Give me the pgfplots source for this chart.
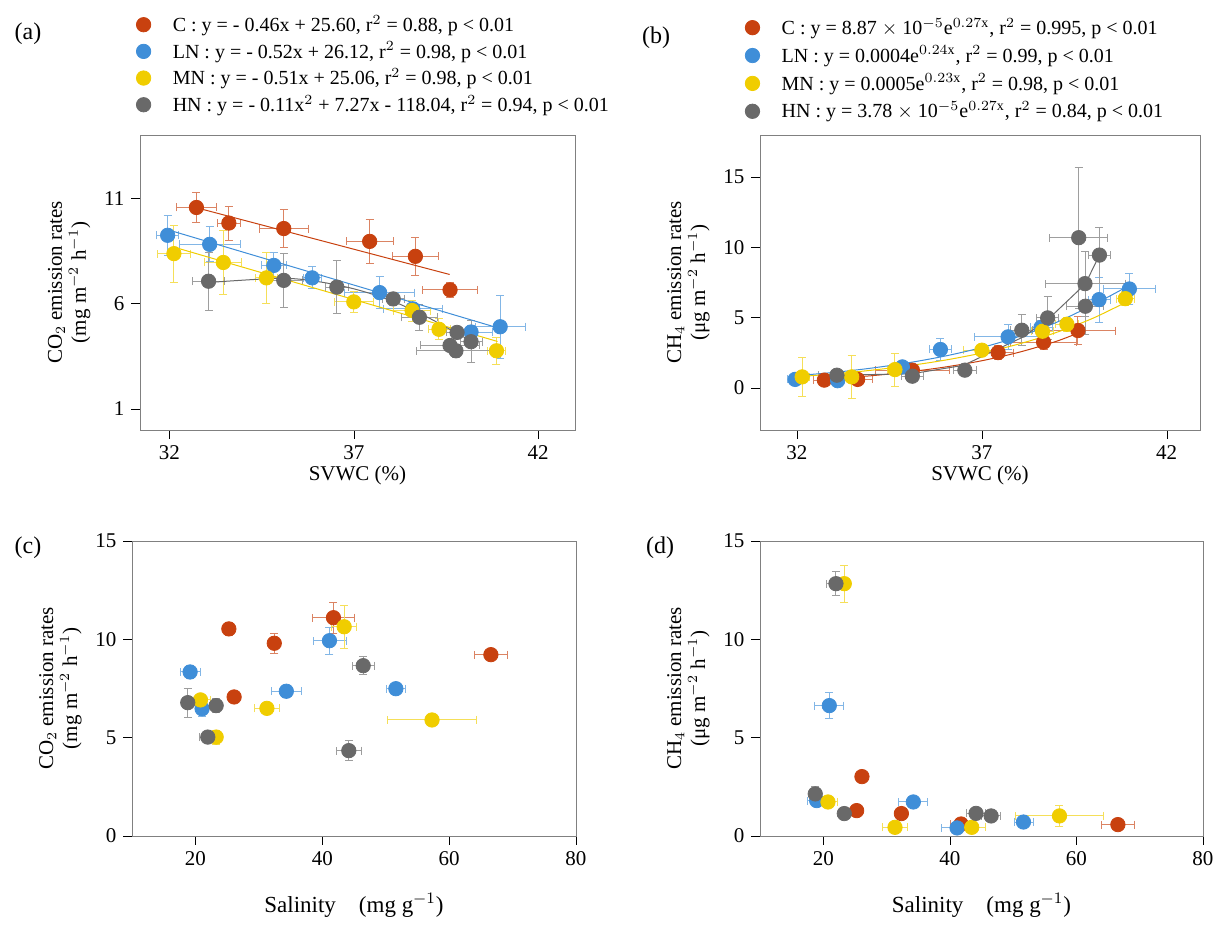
\documentclass[border=0pt]{standalone}
\usepackage{pgfplots}
\pgfplotsset{compat=1.18}
\usepackage{fontspec}
\setmainfont{Liberation Serif}
\definecolor{cR}{RGB}{200,65,15}
\definecolor{cB}{RGB}{63,142,216}
\definecolor{cY}{RGB}{240,205,0}
\definecolor{cG}{RGB}{105,105,105}
\newcommand{\g}{\hspace{9pt}}
\pgfplotsset{
  base/.style={scale only axis, axis line style={gray}, tick align=outside,
    xtick pos=bottom, ytick pos=left, tick style={black},
    /pgf/number format/assume math mode=true,
    tick label style={font=\fontsize{10.5}{12}\selectfont},
    label style={font=\fontsize{10.5}{12}\selectfont},
    ylabel style={align=center}},
  pt/.style={only marks, mark=*, mark size=3.6pt, color=#1, mark options={draw=#1,fill=#1},
    error bars/x dir=both, error bars/x explicit, error bars/y dir=both, error bars/y explicit,
    error bars/error mark options={rotate=90,mark size=2pt},
    error bars/error bar style={#1!65!white, line width=0.5pt}},
  fit/.style={#1, line width=0.5pt, no marks, forget plot},
  leg/.style={legend cell align=left, legend style={draw=none, fill=none, font=\fontsize{10}{12}\selectfont, row sep=-0.3pt}}
}
\begin{document}
\begin{tikzpicture}
\path (0,0) rectangle (611pt,461pt);
% (a)
\begin{axis}[base, leg, at={(70pt,246pt)}, anchor=south west, width=217.5pt, height=147.5pt,
  xmin=31.2, xmax=43, ymin=0, ymax=14, xtick={32,37,42}, ytick={1,6,11},
  xlabel={SVWC (\%)}, xlabel style={yshift=4pt}, ylabel={CO$_2$ emission rates\\(mg m$^{-2}$ h$^{-1}$)},
  legend style={at={(-0.023,1.435)}, anchor=north west}]
\addplot[pt=cR] table[x error=ex,y error=ey]{
x y ex ey
32.73 10.56 0.55 0.71
33.61 9.82 0.32 0.8
35.10 9.56 0.67 0.9
37.43 8.95 0.64 1.05
38.67 8.24 0.63 0.9
39.61 6.65 0.74 0.37
};
\addlegendentry{\g C : y = - 0.46x + 25.60, r$^2$ = 0.88, p < 0.01}
\addplot[pt=cB] table[x error=ex,y error=ey]{
x y ex ey
31.95 9.24 0.3 0.95
33.09 8.81 0.82 0.83
34.83 7.81 0.34 0.63
35.87 7.22 0.25 0.52
37.70 6.52 0.95 0.76
38.6 5.75 0.8 0.3
40.18 4.65 0.57 0.3
40.97 4.9 0.68 1.5
};
\addlegendentry{\g LN : y = - 0.52x + 26.12, r$^2$ = 0.98, p < 0.01}
\addplot[pt=cY] table[x error=ex,y error=ey]{
x y ex ey
32.12 8.37 0.45 1.36
33.46 7.95 0.5 1.5
34.63 7.22 0.3 1.19
37.0 6.08 0.52 0.48
38.58 5.67 0.5 0.5
39.31 4.78 0.3 0.5
40.87 3.76 0.25 0.63
};
\addlegendentry{\g MN : y = - 0.51x + 25.06, r$^2$ = 0.98, p < 0.01}
\addplot[pt=cG] table[x error=ex,y error=ey]{
x y ex ey
33.06 7.06 0.43 1.37
35.10 7.1 0.5 1.27
36.54 6.78 0.3 1.26
38.07 6.22 0.3 0.3
38.78 5.35 0.5 0.6
39.8 4.63 0.3 0.3
39.61 4.01 0.8 0.3
39.77 3.76 1.06 0.3
40.18 4.19 0.3 1.0
};
\addlegendentry{\g HN : y = - 0.11x$^2$ + 7.27x - 118.04, r$^2$ = 0.94, p < 0.01}
\addplot[fit=cR] coordinates {(32.9,10.47) (39.6,7.38)};
\addplot[fit=cB] coordinates {(32.0,9.48) (40.9,4.85)};
\addplot[fit=cY] coordinates {(32.1,8.69) (40.9,4.2)};
\addplot[fit=cG, smooth] coordinates {(33.06,7.0) (35,7.2) (36,7.05) (37,6.7) (38,6.15) (39,5.35) (40.2,4.2)};
\end{axis}
\node[font=\fontsize{12}{14}\selectfont] at (14pt,444pt) {(a)};
% (b)
\begin{axis}[base, leg, at={(380pt,246pt)}, anchor=south west, width=220pt, height=147.5pt,
  xmin=31, xmax=42.9, ymin=-3, ymax=18, xtick={32,37,42}, ytick={0,5,10,15},
  xlabel={SVWC (\%)}, xlabel style={yshift=4pt}, ylabel={CH$_4$ emission rates\\(μg m$^{-2}$ h$^{-1}$)},
  legend style={at={(-0.048,1.425)}, anchor=north west, row sep=0.3pt}]
\addplot[pt=cR] table[x error=ex,y error=ey]{
x y ex ey
32.74 0.55 0.3 0.2
33.64 0.6 0.4 0.2
35.12 1.26 1.0 0.3
37.44 2.51 0.4 0.5
38.67 3.25 0.9 0.5
39.6 4.08 1.0 1.0
};
\addlegendentry{\g C : y = 8.87 $\times$\ 10$^{-5}$e$^{0.27\mathrm{x}}$, r$^2$ = 0.995, p < 0.01}
\addplot[pt=cB] table[x error=ex,y error=ey]{
x y ex ey
31.95 0.6 0.2 0.2
33.1 0.51 0.5 0.2
34.85 1.49 0.2 0.3
35.88 2.73 0.3 0.8
37.71 3.63 0.9 0.9
38.6 4.3 0.3 0.5
40.17 6.28 0.3 1.6
40.99 7.04 0.7 1.1
};
\addlegendentry{\g LN : y = 0.0004e$^{0.24\mathrm{x}}$, r$^2$ = 0.99, p < 0.01}
\addplot[pt=cY] table[x error=ex,y error=ey]{
x y ex ey
32.14 0.78 0.2 1.37
33.48 0.78 0.2 1.52
34.65 1.3 0.2 1.18
37.0 2.68 0.5 0.3
38.64 4.03 0.3 0.5
39.3 4.53 0.3 0.5
40.88 6.35 0.25 0.5
};
\addlegendentry{\g MN : y = 0.0005e$^{0.23\mathrm{x}}$, r$^2$ = 0.98, p < 0.01}
\addplot[pt=cG] table[x error=ex,y error=ey]{
x y ex ey
33.08 0.9 0.5 0.3
35.12 0.83 0.3 0.3
36.54 1.26 0.3 0.3
38.08 4.1 0.3 1.1
38.78 4.98 0.3 1.5
39.62 10.69 0.78 5.0
40.18 9.45 0.3 2.0
39.79 7.42 1.08 2.3
39.8 5.81 0.5 2.0
};
\addlegendentry{\g HN : y = 3.78 $\times$\ 10$^{-5}$e$^{0.27\mathrm{x}}$, r$^2$ = 0.84, p < 0.01}
\addplot[fit=cR, smooth] coordinates {(32.7,0.61) (34,0.86) (35,1.13) (36,1.48) (37,1.93) (38,2.53) (39,3.3) (39.6,3.9)};
\addplot[fit=cB, smooth] coordinates {(31.95,0.86) (33,1.1) (34,1.4) (35,1.78) (36,2.26) (37,2.87) (38,3.65) (39,4.64) (40,5.9) (41,7.3)};
\addplot[fit=cY, smooth] coordinates {(32.1,0.81) (33,0.99) (34,1.25) (35,1.57) (36,1.97) (37,2.48) (38,3.12) (39,3.93) (40,4.95) (40.9,6.1)};
\addplot[fit=cG] coordinates {(33.08,0.9) (35.1,1.0) (36.5,1.6) (38.1,3.6) (38.8,4.9) (39.8,7.4) (40.18,9.45)};
\end{axis}
\node[font=\fontsize{12}{14}\selectfont] at (328pt,442pt) {(b)};
% (c)
\begin{axis}[base, at={(66pt,43pt)}, anchor=south west, width=222pt, height=147.5pt,
  xmin=10, xmax=80, ymin=0, ymax=15, xtick={20,40,60,80}, ytick={0,5,10,15},
  xlabel={Salinity\quad(mg g$^{-1}$)}, xlabel style={yshift=-7pt, font=\fontsize{11.5}{13}\selectfont}, ylabel={CO$_2$ emission rates\\(mg m$^{-2}$ h$^{-1}$)}]
\addplot[pt=cR] table[x error=ex,y error=ey]{
x y ex ey
25.27 10.53 0.6 0.35
32.43 9.8 0.7 0.5
26.1 7.07 0.5 0.2
41.76 11.1 3.27 0.78
66.58 9.22 2.6 0.2
};
\addplot[pt=cB] table[x error=ex,y error=ey]{
x y ex ey
19.16 8.34 1.6 0.35
21.05 6.47 0.6 0.4
34.33 7.36 2.3 0.3
41.13 9.93 2.6 0.7
51.6 7.49 1.5 0.2
};
\addplot[pt=cY] table[x error=ex,y error=ey]{
x y ex ey
20.8 6.92 1.5 0.2
23.27 5.03 0.5 0.35
31.27 6.49 1.9 0.3
43.45 10.64 2.0 1.1
57.3 5.9 7.0 0.1
};
\addplot[pt=cG] table[x error=ex,y error=ey]{
x y ex ey
18.79 6.78 0.5 0.75
23.27 6.63 0.5 0.35
21.95 5.03 1.4 0.2
46.45 8.66 1.7 0.45
44.18 4.34 2.0 0.5
};
\end{axis}
\node[font=\fontsize{12}{14}\selectfont] at (14pt,187pt) {(c)};
% (d)
\begin{axis}[base, at={(380pt,43pt)}, anchor=south west, width=221.5pt, height=147.5pt,
  xmin=10, xmax=80, ymin=0, ymax=15, xtick={20,40,60,80}, ytick={0,5,10,15},
  xlabel={Salinity\quad(mg g$^{-1}$)}, xlabel style={yshift=-7pt, font=\fontsize{11.5}{13}\selectfont}, ylabel={CH$_4$ emission rates\\(μg m$^{-2}$ h$^{-1}$)}]
\addplot[pt=cR] table[x error=ex,y error=ey]{
x y ex ey
26.11 3.02 0.5 0.1
25.27 1.29 0.5 0.1
32.34 1.14 0.5 0.15
41.77 0.61 1.7 0.1
66.55 0.58 2.6 0.1
};
\addplot[pt=cB] table[x error=ex,y error=ey]{
x y ex ey
18.95 1.8 1.4 0.15
20.95 6.63 2.3 0.65
34.23 1.73 2.3 0.2
41.14 0.41 2.5 0.1
51.63 0.71 1.5 0.1
};
\addplot[pt=cY] table[x error=ex,y error=ey]{
x y ex ey
20.74 1.73 1.5 0.1
23.32 12.83 0.5 0.95
31.33 0.44 2.0 0.1
43.46 0.44 2.1 0.1
57.32 1.02 7.0 0.55
};
\addplot[pt=cG] table[x error=ex,y error=ey]{
x y ex ey
18.73 2.14 0.5 0.4
22.0 12.83 1.5 0.6
23.32 1.14 0.5 0.3
44.14 1.15 1.5 0.3
46.52 1.02 1.5 0.3
};
\end{axis}
\node[font=\fontsize{12}{14}\selectfont] at (330pt,187pt) {(d)};
\end{tikzpicture}
\end{document}
